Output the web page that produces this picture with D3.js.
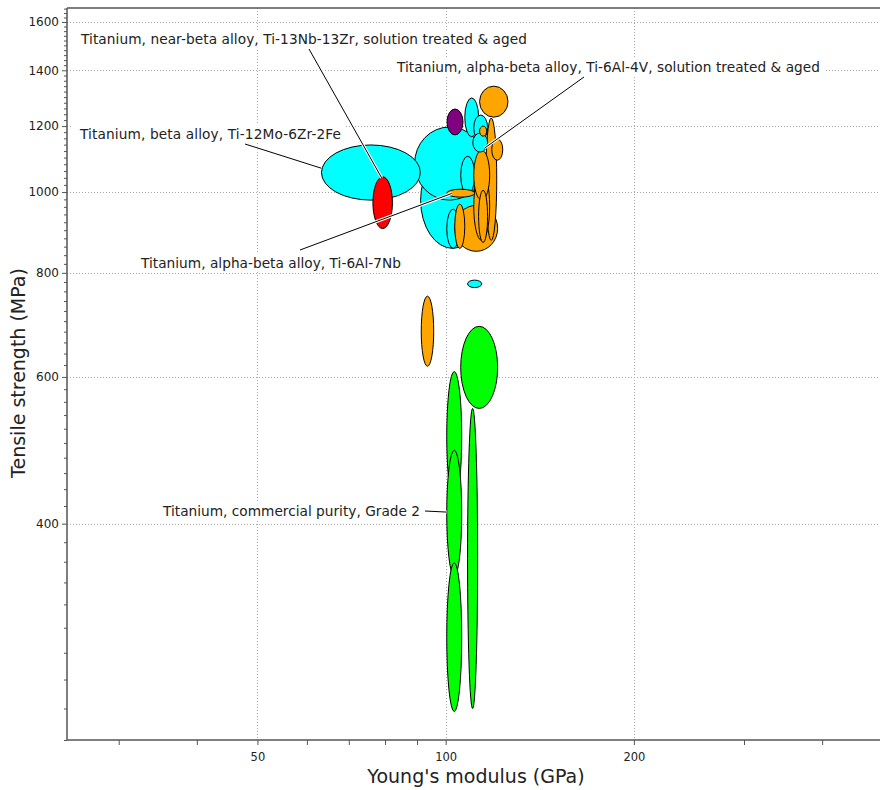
<!DOCTYPE html>
<html>
<head>
<meta charset="utf-8">
<script src="https://cdn.jsdelivr.net/npm/d3@7"></script>
<style>
  body { margin: 0; background: #fff; }
  text { font-family: "DejaVu Sans", sans-serif; fill: #222; }
  .grid line { stroke: #a8a8a8; stroke-dasharray: 1,2; }
  .bubble { stroke: #000; stroke-width: 1; }
  .leader-halo { stroke: #fff; stroke-width: 3; }
  .leader { stroke: #000; stroke-width: 1; }
</style>
</head>
<body>
<svg id="chart" width="881" height="790"></svg>
<script>
// ---- data ----
// axis extents and ticks
const modulusDomain = [24.8, 495];          // GPa
const strengthDomain = [220, 1663];         // MPa
const modulusTicks = [30, 40, 50, 60, 70, 80, 90, 100, 200, 300, 400];
const modulusLabels = [50, 100, 200];
const strengthLabels = [400, 600, 800, 1000, 1200, 1400, 1600];
const strengthMinor = d3.range(220, 1661, 20).filter(v => !strengthLabels.includes(v));

// bubbles, listed in drawing order: modulus range (GPa) and tensile strength range (MPa)
const bubbleGroup = [
  "alphaBeta", "alphaBeta", "beta", "nearBeta", "alphaBeta",
  "alloyB", "alloyB", "alphaBeta", "alloyB", "alloyB",
  "alloyB", "alloyB", "alloyB", "alloyB", "alphaBeta",
  "alphaBeta", "alphaBeta", "alloyB", "other", "alloyB",
  "alloyB", "alphaBeta", "commercial", "commercial", "commercial",
  "commercial", "commercial"
];
const modulusLow = [
  91.2, 89.2, 63.3, 76.5, 100.4,
  103.4, 103.4, 105.7, 115.9, 110.9,
  110.9, 112.9, 100.4, 118.5, 107.3,
  110.9, 110.5, 113.3, 100.5, 113.3,
  91.4, 108.4, 105.7, 100.4, 100.4,
  100.4, 108.4
];
const modulusHigh = [
  115.4, 115.4, 91.1, 82.2, 105.3,
  121.1, 107.3, 111.3, 120.7, 117.6,
  117.6, 116.7, 111.3, 123.4, 112.9,
  116.7, 116.7, 116.3, 106.6, 125.8,
  95.7, 114.2, 121.1, 106.1, 106.1,
  106.1, 112.5
];
const strengthLow = [
  856, 978, 978, 904, 856,
  849, 856, 994, 875, 875,
  978, 870, 986, 1092, 1165,
  1154, 1117, 1167, 1171, 1230,
  618, 768, 550, 426, 346,
  238, 240
];
const strengthHigh = [
  1117, 1197, 1139, 1043, 954,
  964, 967, 1104, 1227, 1057,
  1123, 1005, 1008, 1158, 1297,
  1237, 1177, 1200, 1258, 1340,
  750, 784, 690, 609, 490,
  359, 550
];

// annotations: text and the point (GPa, MPa) that the leader line touches
const noteText = [
  "Titanium, near-beta alloy, Ti-13Nb-13Zr, solution treated & aged",
  "Titanium, alpha-beta alloy, Ti-6Al-4V, solution treated & aged",
  "Titanium, beta alloy, Ti-12Mo-6Zr-2Fe",
  "Titanium, alpha-beta alloy, Ti-6Al-7Nb",
  "Titanium, commercial purity, Grade 2"
];
const noteModulus = [79, 115.4, 63.3, 102.2, 100.4];
const noteStrength = [1040, 1129, 1068, 996, 413];

// ---- layout ----
const groupColor = {
  alphaBeta: "#00ffff", alloyB: "#ffa500", beta: "#00ffff",
  nearBeta: "#ff0000", other: "#800080", commercial: "#00ff00"
};
// label placement in pixels: text x, centre y, anchor, width, leader start
const noteLayout = [
  { x: 81,  y: 39,  anchor: "start", w: 446, from: [309, 49] },
  { x: 397, y: 67,  anchor: "start", w: 423, from: [584, 77] },
  { x: 80,  y: 134, anchor: "start", w: 261, from: [245, 144] },
  { x: 141, y: 263, anchor: "start", w: 260, from: [300, 250] },
  { x: 420, y: 511, anchor: "end",   w: 257, from: [425, 511] }
];

const svg = d3.select("#chart");
const width = +svg.attr("width");
const height = +svg.attr("height");
const margin = { top: 8, right: 1, bottom: 50, left: 67 };

const x = d3.scaleLog().domain(modulusDomain).range([margin.left, width - margin.right]);
const y = d3.scaleLog().domain(strengthDomain).range([height - margin.bottom, margin.top]);

// grid
const grid = svg.append("g").attr("class", "grid");
grid.selectAll(".gx").data(modulusLabels).join("line")
  .attr("x1", d => Math.round(x(d)) + 0.5).attr("x2", d => Math.round(x(d)) + 0.5)
  .attr("y1", margin.top).attr("y2", height - margin.bottom);
grid.selectAll(".gy").data(strengthLabels).join("line")
  .attr("x1", margin.left).attr("x2", width - margin.right)
  .attr("y1", d => Math.round(y(d)) + 0.5).attr("y2", d => Math.round(y(d)) + 0.5);

// bubbles
const bubbles = modulusLow.map((lo, i) => ({
  group: bubbleGroup[i], eLo: lo, eHi: modulusHigh[i],
  sLo: strengthLow[i], sHi: strengthHigh[i]
}));

svg.append("g").selectAll("ellipse").data(bubbles).join("ellipse")
  .attr("class", "bubble")
  .attr("cx", d => (x(d.eLo) + x(d.eHi)) / 2)
  .attr("cy", d => (y(d.sLo) + y(d.sHi)) / 2)
  .attr("rx", d => Math.abs(x(d.eHi) - x(d.eLo)) / 2)
  .attr("ry", d => Math.abs(y(d.sLo) - y(d.sHi)) / 2)
  .attr("fill", d => groupColor[d.group])
  .attr("stroke", d => d.group === "other" ? "#fff" : "#000")
  .attr("stroke-width", d => d.group === "other" ? 1.5 : 1);

// axes
const axisColor = "#555";
const yMajor = svg.append("g")
  .attr("transform", `translate(${margin.left},0)`)
  .call(d3.axisLeft(y).tickValues(strengthLabels).tickSize(5).tickPadding(3).tickFormat(d3.format("d")));
const yMinor = svg.append("g")
  .attr("transform", `translate(${margin.left},0)`)
  .call(d3.axisLeft(y).tickValues(strengthMinor).tickSize(3).tickFormat(""));
const xAxis = svg.append("g")
  .attr("transform", `translate(0,${height - margin.bottom})`)
  .call(d3.axisBottom(x).tickValues(modulusTicks).tickSize(5).tickPadding(8)
    .tickFormat(d => modulusLabels.includes(d) ? d : ""));

[yMajor, yMinor, xAxis].forEach(g => {
  g.select(".domain").remove();
  g.selectAll(".tick line").attr("stroke", axisColor);
  g.selectAll("text").attr("font-family", "DejaVu Sans").attr("fill", "#222");
});
yMajor.selectAll("text").attr("font-size", 12);
xAxis.selectAll("text").attr("font-size", 11.5);

// frame
const frame = svg.append("g").attr("stroke", axisColor).attr("stroke-width", 1.5);
frame.append("line").attr("x1", margin.left).attr("x2", margin.left)
  .attr("y1", margin.top).attr("y2", height - margin.bottom);
frame.append("line").attr("x1", margin.left).attr("x2", width - margin.right)
  .attr("y1", height - margin.bottom).attr("y2", height - margin.bottom);
frame.append("line").attr("x1", margin.left).attr("x2", width - margin.right)
  .attr("y1", margin.top).attr("y2", margin.top);

// axis titles
svg.append("text")
  .attr("x", 476).attr("y", 783)
  .attr("text-anchor", "middle").attr("font-size", 19)
  .text("Young's modulus (GPa)");
svg.append("text")
  .attr("transform", "translate(25,373) rotate(-90)")
  .attr("text-anchor", "middle").attr("font-size", 19)
  .text("Tensile strength (MPa)");

// annotations
const notes = svg.append("g");
noteText.forEach((t, i) => {
  const lay = noteLayout[i];
  const tx = x(noteModulus[i]);
  const ty = y(noteStrength[i]);
  notes.append("line").attr("class", "leader-halo")
    .attr("x1", lay.from[0]).attr("y1", lay.from[1]).attr("x2", tx).attr("y2", ty);
  notes.append("line").attr("class", "leader")
    .attr("x1", lay.from[0]).attr("y1", lay.from[1]).attr("x2", tx).attr("y2", ty);

  const g = notes.append("g");
  const bg = g.append("rect").attr("fill", "#fff");
  const label = g.append("text")
    .attr("x", lay.x).attr("y", lay.y).attr("dy", "0.35em")
    .attr("text-anchor", lay.anchor)
    .attr("font-size", 13.7)
    .attr("textLength", lay.w).attr("lengthAdjust", "spacing")
    .text(t);
  const b = label.node().getBBox();
  bg.attr("x", b.x - 6).attr("y", b.y - 1).attr("width", b.width + 10).attr("height", b.height + 2);
});
</script>
</body>
</html>
